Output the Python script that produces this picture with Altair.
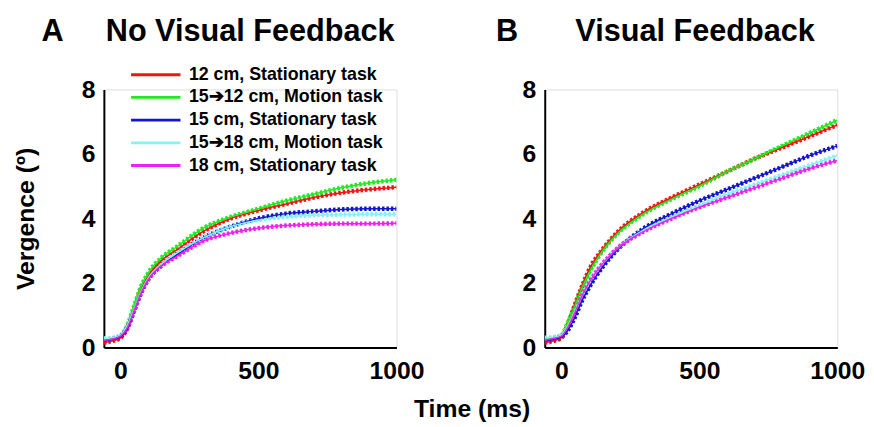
import altair as alt
import pandas as pd

# ---- data ----
times = [-60, -30, 0, 25, 50, 75, 100, 150, 200, 300, 400, 500, 600, 700, 800, 900, 1000]
conditions = ["12 cm, Stationary task", "15\u279412 cm, Motion task", "15 cm, Stationary task",
              "15\u279418 cm, Motion task", "18 cm, Stationary task"]
colors = ["#f01414", "#22ea22", "#1414cc", "#88f2f2", "#ee22ee"]

a_red = [0.15, 0.2, 0.3, 0.6, 1.2, 1.8, 2.2, 2.7, 3.0, 3.6, 4.0, 4.25, 4.45, 4.65, 4.8, 4.9, 4.97]
a_green = [0.22, 0.27, 0.35, 0.7, 1.3, 1.9, 2.3, 2.8, 3.1, 3.7, 4.05, 4.3, 4.55, 4.75, 4.95, 5.1, 5.2]
a_blue = [0.2, 0.25, 0.33, 0.6, 1.15, 1.7, 2.1, 2.55, 2.85, 3.4, 3.75, 4.0, 4.15, 4.22, 4.28, 4.3, 4.3]
a_cyan = [0.28, 0.3, 0.38, 0.68, 1.2, 1.75, 2.15, 2.6, 2.9, 3.4, 3.75, 3.95, 4.05, 4.1, 4.12, 4.13, 4.13]
a_magenta = [0.22, 0.26, 0.35, 0.62, 1.15, 1.7, 2.1, 2.55, 2.8, 3.3, 3.55, 3.7, 3.78, 3.82, 3.84, 3.84, 3.85]

b_red = [0.15, 0.2, 0.3, 0.75, 1.35, 1.9, 2.4, 3.05, 3.55, 4.2, 4.65, 5.05, 5.45, 5.85, 6.2, 6.55, 6.9]
b_green = [0.25, 0.3, 0.38, 0.8, 1.3, 1.85, 2.3, 3.0, 3.5, 4.15, 4.6, 5.0, 5.45, 5.85, 6.25, 6.65, 7.05]
b_blue = [0.2, 0.25, 0.32, 0.55, 0.95, 1.45, 1.85, 2.5, 3.0, 3.7, 4.15, 4.55, 4.9, 5.25, 5.6, 5.95, 6.25]
b_cyan = [0.3, 0.32, 0.38, 0.7, 1.15, 1.6, 2.0, 2.6, 3.05, 3.65, 4.05, 4.4, 4.75, 5.05, 5.35, 5.65, 5.95]
b_magenta = [0.22, 0.28, 0.35, 0.65, 1.1, 1.6, 2.0, 2.6, 3.05, 3.6, 4.0, 4.35, 4.65, 4.95, 5.25, 5.55, 5.8]

x_ticks = [0, 500, 1000]
y_ticks = [0, 2, 4, 6, 8]

FONT = "Liberation Sans"


def frame(series_list):
    rows = []
    for cond, vals in zip(conditions, series_list):
        for t, v in zip(times, vals):
            rows.append({"time": t, "vergence": v, "condition": cond})
    return pd.DataFrame(rows)


def panel(df, letter, letter_x, title, title_x, show_ytitle, show_legend):
    legend = alt.Legend(
        orient="none", legendX=26, legendY=-24, title=None, padding=0,
        symbolType="stroke", symbolSize=2500, symbolStrokeWidth=3, clipHeight=18,
        labelFont=FONT, labelFontSize=18, labelFontWeight="bold", labelLimit=400,
        labelColor="black", rowPadding=5, labelOffset=7, symbolOpacity=1,
    ) if show_legend else None
    color = alt.Color("condition:N", scale=alt.Scale(domain=conditions, range=colors),
                      sort=conditions, legend=legend)
    x = alt.X("time:Q", scale=alt.Scale(domain=[-60, 1000], nice=False),
              axis=alt.Axis(values=x_ticks, format="d", title=None, grid=False, ticks=False,
                            labelFont=FONT, labelFontSize=25, labelFontWeight="bold",
                            labelColor="black", labelPadding=11, domainColor="black",
                            domainWidth=2, labelFlush=False))
    y = alt.Y("vergence:Q", scale=alt.Scale(domain=[0, 8], nice=False),
              axis=alt.Axis(values=y_ticks, title="Vergence (\u00ba)" if show_ytitle else None,
                            grid=False, ticks=False,
                            labelFont=FONT, labelFontSize=25, labelFontWeight="bold",
                            labelColor="black", labelPadding=9, domainColor="black",
                            domainWidth=2, titleFont=FONT, titleFontSize=25,
                            titleFontWeight="bold", titleColor="black", titlePadding=43,
                            labelFlush=False))
    base = alt.Chart(df)
    dotted = base.mark_line(strokeWidth=4.5, strokeDash=[2.5, 2], interpolate="monotone",
                            clip=True).encode(x=x, y=y, color=color, detail="condition:N")
    solid = base.mark_line(strokeWidth=1.5, interpolate="monotone", clip=True).encode(
        x=x, y=y, color=color, detail="condition:N")
    ttl = alt.Chart(pd.DataFrame({"t": [title]})).mark_text(
        font=FONT, fontSize=31, fontWeight="bold", color="black", baseline="alphabetic"
    ).encode(text="t:N", x=alt.value(title_x), y=alt.value(-49))
    ltr = alt.Chart(pd.DataFrame({"t": [letter]})).mark_text(
        font=FONT, fontSize=31, fontWeight="bold", color="black", baseline="alphabetic"
    ).encode(text="t:N", x=alt.value(letter_x), y=alt.value(-49))
    return alt.layer(dotted, solid, ttl, ltr).properties(width=296, height=261)


pa = panel(frame([a_red, a_green, a_blue, a_cyan, a_magenta]), "A", -52,
           "No Visual Feedback", 148, True, True)
pb = panel(frame([b_red, b_green, b_blue, b_cyan, b_magenta]), "B", -38,
           "Visual Feedback", 152, False, False)

chart = alt.hconcat(pa, pb, spacing=71).properties(
    padding={"left": 5, "top": 5, "right": 0, "bottom": 0},
    title=alt.TitleParams("Time (ms)", orient="bottom", anchor="middle", font=FONT,
                          fontSize=25, fontWeight="bold", color="black", offset=14, dx=33)
).configure_view(stroke=None).configure(background="white")

chart.save("out.html", embed_options={"renderer": "svg", "actions": False})
